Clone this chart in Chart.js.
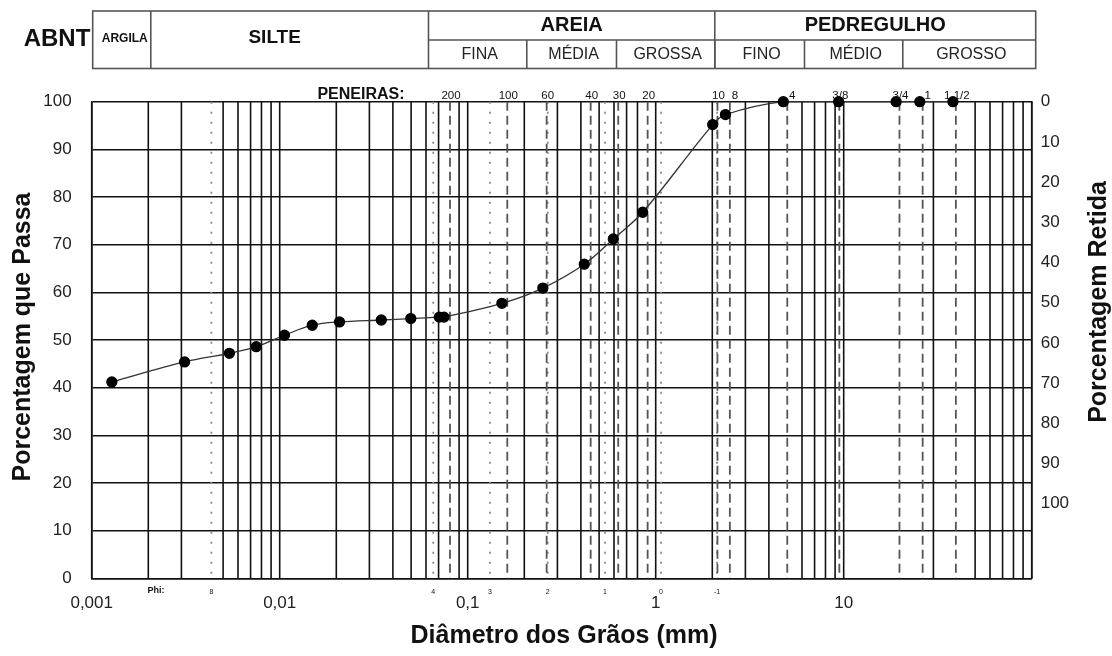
<!DOCTYPE html>
<html><head><meta charset="utf-8">
<script src="https://cdn.jsdelivr.net/npm/chart.js@4.4.0/dist/chart.umd.min.js"></script>
<style>html,body{margin:0;padding:0;background:#fff;}canvas{display:block}</style>
</head><body>
<canvas id="c" width="1112" height="656"></canvas>
<script>
// ---- data ----
const diameters = [0.00128, 0.00312, 0.0054, 0.0075, 0.0106, 0.0149, 0.0208, 0.0347, 0.0498, 0.0706, 0.0748, 0.152, 0.251, 0.417, 0.595, 0.853, 2.01, 2.35, 4.77, 9.4, 19.0, 25.4, 38.1];
const passing   = [41.2, 45.4, 47.2, 48.6, 51.0, 53.1, 53.8, 54.2, 54.5, 54.8, 54.8, 57.7, 60.9, 65.9, 71.2, 76.8, 95.2, 97.3, 100, 100, 100, 100, 100];

const xTickValues = [0.001, 0.01, 0.1, 1, 10];
const xTickLabels = ['0,001', '0,01', '0,1', '1', '10'];

const gridDiameters = [0.001,0.002,0.003,0.005,0.006,0.007,0.008,0.009,
  0.01,0.02,0.03,0.04,0.05,0.06,0.07,0.09,
  0.1,0.2,0.3,0.4,0.5,0.6,0.7,0.8,
  1,2,3,4,6,7,8,9,
  10,30,50,60,70,80,90,100];

const sieveLabels    = ['200','100','60','40','30','20','10','8','4','3/8','3/4','1','1 1/2'];
const sieveDiameters = [0.0805,0.1624,0.263,0.451,0.632,0.906,2.13,2.48,5.01,9.48,19.8,26.3,39.5];

const phiLabels    = ['8','4','3','2','1','0','-1'];
const phiDiameters = [0.00433,0.0656,0.1314,0.2665,0.537,1.067,2.12];

const mainClassLabels = ['ARGILA','SILTE','AREIA','PEDREGULHO'];
const mainClassBounds = [0.001,0.002,0.06,2,100];
const subClassLabels  = ['FINA','MÉDIA','GROSSA','FINO','MÉDIO','GROSSO'];
const subClassBounds  = [0.06,0.2,0.6,2,6,20,100];

const FONT = '"Liberation Sans", Arial, sans-serif';

const deco = {
  id: 'deco',
  beforeDatasetsDraw(chart) {
    const {ctx, chartArea: a, scales: {x}} = chart;
    ctx.save();
    const vline = (d) => { const px = x.getPixelForValue(d); ctx.beginPath(); ctx.moveTo(px, a.top); ctx.lineTo(px, a.bottom); ctx.stroke(); };
    ctx.strokeStyle = '#111'; ctx.lineWidth = 1.6; ctx.setLineDash([]);
    gridDiameters.forEach(vline);
    ctx.strokeStyle = '#8a8a8a'; ctx.lineWidth = 1.8; ctx.setLineDash([2, 8]);
    phiDiameters.forEach(vline);
    ctx.strokeStyle = '#555'; ctx.lineWidth = 1.8; ctx.setLineDash([9, 5]);
    sieveDiameters.forEach(vline);
    ctx.restore();
  },
  afterDraw(chart) {
    const {ctx, chartArea: a, scales: {x}} = chart;
    ctx.save();
    // header table
    const hx = (d, i, arr) => (i === 0 ? a.left + 1 : (i === arr.length - 1 ? a.right + 4 : x.getPixelForValue(d) + 2.5));
    const top = 11, mid = 40, bot = 68.5;
    ctx.strokeStyle = '#555'; ctx.lineWidth = 1.6;
    const mb = mainClassBounds.map(hx);
    ctx.strokeRect(mb[0], top, mb[mb.length-1] - mb[0], bot - top);
    mb.forEach((p, i) => { if (i > 0 && i < mb.length - 1) { ctx.beginPath(); ctx.moveTo(p, top); ctx.lineTo(p, bot); ctx.stroke(); } });
    const sb = subClassBounds.map((d, i, arr) => (i === arr.length - 1 ? a.right + 4 : x.getPixelForValue(d) + 2.5));
    ctx.beginPath(); ctx.moveTo(sb[0], mid); ctx.lineTo(sb[sb.length-1], mid); ctx.stroke();
    sb.forEach((p, i) => { if (i > 0 && i < sb.length - 1) { ctx.beginPath(); ctx.moveTo(p, mid); ctx.lineTo(p, bot); ctx.stroke(); } });
    ctx.fillStyle = '#111'; ctx.textAlign = 'center'; ctx.textBaseline = 'middle';
    ctx.font = 'bold 24px ' + FONT;
    ctx.fillText('ABNT', 57, 39);
    mainClassLabels.forEach((t, i) => {
      const cx = (mb[i] + mb[i+1]) / 2;
      if (i === 0) { ctx.font = 'bold 12px ' + FONT; ctx.fillText(t, cx + 3, 39); }
      else if (i === 1) { ctx.font = 'bold 19px ' + FONT; ctx.fillText(t, cx - 15, 38); }
      else { ctx.font = 'bold 20px ' + FONT; ctx.fillText(t, cx, 25); }
    });
    ctx.font = '16px ' + FONT; ctx.fillStyle = '#222';
    subClassLabels.forEach((t, i) => { ctx.fillText(t, (sb[i] + sb[i+1]) / 2 + 2, 55); });
    // sieves
    ctx.fillStyle = '#111';
    ctx.font = 'bold 16px ' + FONT;
    ctx.fillText('PENEIRAS:', 361, 95);
    ctx.font = '11.5px ' + FONT;
    sieveLabels.forEach((t, i) => { ctx.fillText(t, x.getPixelForValue(sieveDiameters[i]) + (t.length === 1 ? 5 : 1), 96); });
    // phi
    ctx.font = 'bold 9px ' + FONT;
    ctx.fillText('Phi:', 156, 591);
    ctx.font = '7px ' + FONT;
    phiLabels.forEach((t, i) => { ctx.fillText(t, x.getPixelForValue(phiDiameters[i]), 592); });
    // axis titles
    ctx.font = 'bold 25px ' + FONT; ctx.fillStyle = '#111';
    ctx.fillText('Diâmetro dos Grãos (mm)', 564, 636);
    ctx.save(); ctx.translate(23, 337); ctx.rotate(-Math.PI / 2); ctx.fillText('Porcentagem que Passa', 0, 0); ctx.restore();
    ctx.save(); ctx.translate(1099, 302); ctx.rotate(-Math.PI / 2); ctx.fillText('Porcentagem Retida', 0, 0); ctx.restore();
    ctx.restore();
  }
};

new Chart(document.getElementById('c'), {
  type: 'line',
  data: {
    datasets: [{
      data: diameters.map((d, i) => ({x: d, y: passing[i]})),
      borderColor: '#333', borderWidth: 1.3, tension: 0.35,
      pointRadius: 5, pointBackgroundColor: '#000', pointBorderColor: '#000', pointHoverRadius: 5,
      clip: false, yAxisID: 'y'
    }]
  },
  options: {
    responsive: false, animation: false, devicePixelRatio: 1,
    layout: { padding: { top: 101.7, left: 0, right: 0, bottom: 0 } },
    plugins: { legend: { display: false }, tooltip: { enabled: false } },
    scales: {
      x: {
        type: 'logarithmic', min: 0.001, max: 100,
        afterBuildTicks: s => { s.ticks = xTickValues.map(v => ({value: v})); },
        afterFit: s => { s.height = 77.7; },
        grid: { display: false, drawTicks: false },
        border: { display: true, color: '#111', width: 1.6 },
        ticks: { padding: 15, autoSkip: false, maxRotation: 0, color: '#222', font: { family: FONT, size: 17 },
          callback: (v) => { const i = xTickValues.indexOf(v); return i >= 0 ? xTickLabels[i] : ''; } }
      },
      y: {
        position: 'left', min: 0, max: 100,
        afterFit: s => { s.width = 91.7; },
        grid: { color: '#111', lineWidth: 1.6, drawTicks: false },
        border: { display: true, color: '#111', width: 1.6 },
        ticks: { stepSize: 10, padding: 20, color: '#222', font: { family: FONT, size: 17 } }
      },
      y2: {
        position: 'right', min: 0, max: 118.6, reverse: true,
        afterFit: s => { s.width = 80.3; },
        grid: { display: false, drawTicks: false },
        border: { display: true, color: '#111', width: 1.6 },
        ticks: { stepSize: 10, padding: 9, color: '#222', font: { family: FONT, size: 17 },
          callback: v => (v <= 100 ? v : '') }
      }
    }
  },
  plugins: [deco]
});
</script>
</body></html>
